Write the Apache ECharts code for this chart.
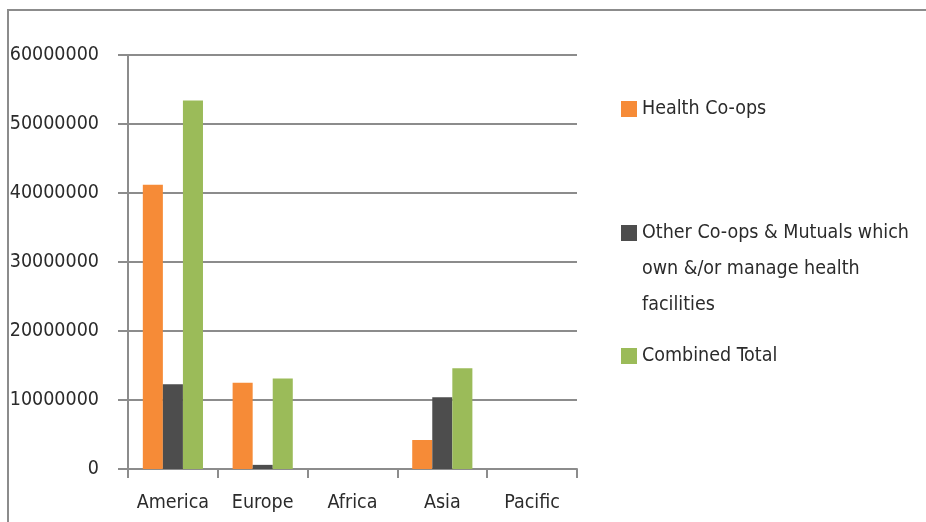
<!DOCTYPE html>
<html>
<head>
<meta charset="utf-8">
<script src="https://cdn.jsdelivr.net/npm/echarts@6/dist/echarts.min.js"></script>
<style>
html,body{margin:0;padding:0;background:#fff;}
#chart{width:926px;height:522px;}
</style>
</head>
<body>
<div id="chart"></div>
<script>
var categories = ['America', 'Europe', 'Africa', 'Asia', 'Pacific'];
var healthCoops = [41200000, 12500000, 0, 4200000, 0];
var otherCoops = [12300000, 600000, 0, 10400000, 0];
var combinedTotal = [53400000, 13100000, 0, 14600000, 0];
var seriesNames = ['Health Co-ops', 'Other Co-ops & Mutuals which\nown &/or manage health\nfacilities', 'Combined Total'];
var colors = ['#F68B37', '#4D4D4D', '#9BBB59'];

var FONT = '"DejaVu Sans Condensed", "Liberation Sans Narrow", sans-serif';
var FS = 19.5;
var chart = echarts.init(document.getElementById('chart'));
var axisGray = '#8C8C8C';

function legendAt(name, top, icon, ih) {
  return {
    data: [{name: name, icon: icon}], left: 621, top: top, orient: 'vertical', padding: 0,
    itemWidth: 16, itemHeight: ih, itemGap: 0, symbolKeepAspect: false,
    selectedMode: false,
    textStyle: {fontFamily: FONT, fontSize: FS, color: '#2b2b2b', lineHeight: 36}
  };
}
var squareIcon = 'rect';
var tallIcon = 'path://M0,0L16,0L16,16L0,16Z M0,87.98L0.02,87.98L0.02,88L0,88Z';

chart.setOption({
  animation: false,
  color: colors,
  graphic: [{
    type: 'rect', shape: {x: 8, y: 10, width: 1000, height: 600},
    style: {fill: 'none', stroke: axisGray, lineWidth: 2}, silent: true
  }],
  legend: [
    legendAt(seriesNames[0], 91, squareIcon, 16),
    legendAt(seriesNames[1], 215, tallIcon, 88),
    legendAt(seriesNames[2], 338, squareIcon, 16)
  ],
  grid: {left: 128, right: 349, top: 55, bottom: 53, containLabel: false, outerBoundsMode: 'none'},
  xAxis: {
    type: 'category', data: categories,
    axisLine: {lineStyle: {color: axisGray, width: 2}},
    axisTick: {show: true, length: 9, lineStyle: {color: axisGray, width: 2}},
    axisLabel: {fontFamily: FONT, fontSize: FS, color: '#2b2b2b', margin: 24, interval: 0}
  },
  yAxis: {
    type: 'value', min: 0, max: 60000000, interval: 10000000,
    axisLine: {show: true, lineStyle: {color: axisGray, width: 2}},
    axisTick: {show: true, length: 10, lineStyle: {color: axisGray, width: 2}},
    splitLine: {show: true, lineStyle: {color: axisGray, width: 2}},
    axisLabel: {fontFamily: FONT, fontSize: FS, color: '#2b2b2b', margin: 29,
      formatter: function (v) { return String(v); }}
  },
  series: [
    {name: seriesNames[0], type: 'bar', data: healthCoops, barGap: '0%', barCategoryGap: '33%', itemStyle: {color: colors[0]}},
    {name: seriesNames[1], type: 'bar', data: otherCoops, barGap: '0%', barCategoryGap: '33%', itemStyle: {color: colors[1]}},
    {name: seriesNames[2], type: 'bar', data: combinedTotal, barGap: '0%', barCategoryGap: '33%', itemStyle: {color: colors[2]}}
  ]
});
</script>
</body>
</html>
